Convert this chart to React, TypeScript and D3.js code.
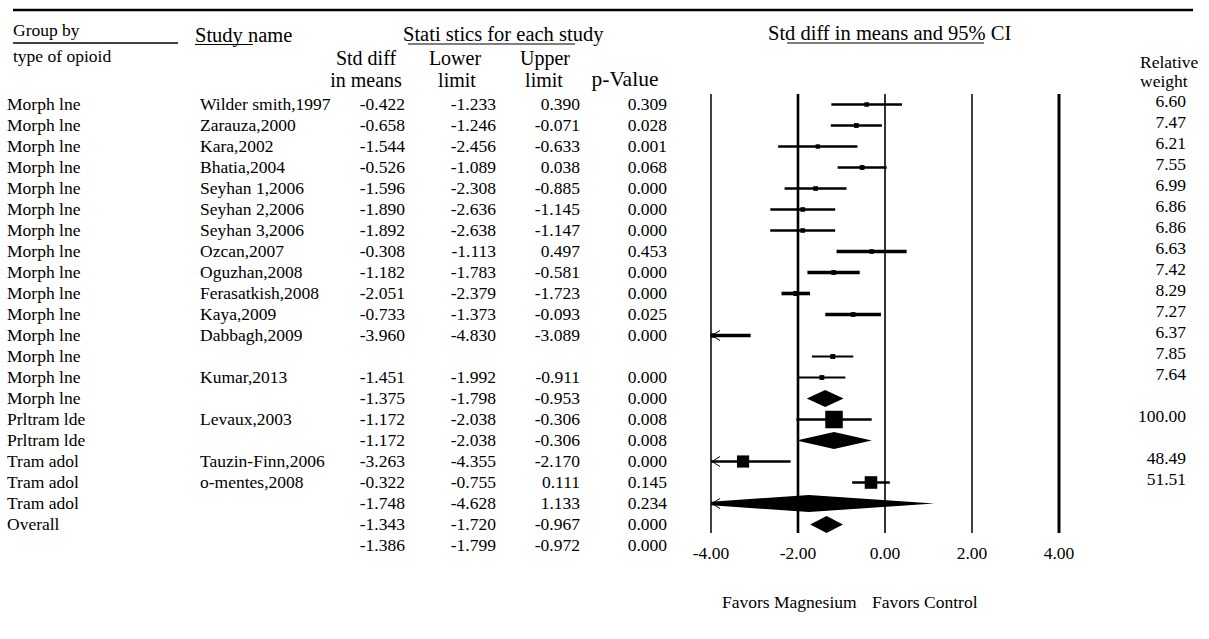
import React from "react";
import * as d3 from "d3";

// ---- table content -------------------------------------------------------
const groupLabels = [
  "Morph lne", "Morph lne", "Morph lne", "Morph lne", "Morph lne",
  "Morph lne", "Morph lne", "Morph lne", "Morph lne", "Morph lne",
  "Morph lne", "Morph lne", "Morph lne", "Morph lne", "Morph lne",
  "Prltram lde", "Prltram lde",
  "Tram adol", "Tram adol", "Tram adol",
  "Overall",
];

const studyNames = [
  "Wilder smith,1997", "Zarauza,2000", "Kara,2002", "Bhatia,2004",
  "Seyhan 1,2006", "Seyhan 2,2006", "Seyhan 3,2006", "Ozcan,2007",
  "Oguzhan,2008", "Ferasatkish,2008", "Kaya,2009", "Dabbagh,2009",
  "", "Kumar,2013", "", "Levaux,2003", "", "Tauzin-Finn,2006",
  "o-mentes,2008", "", "", "",
];

const stdDiff: (number | null)[] = [
  -0.422, -0.658, -1.544, -0.526, -1.596, -1.890, -1.892, -0.308,
  -1.182, -2.051, -0.733, -3.960, null, -1.451, -1.375, -1.172,
  -1.172, -3.263, -0.322, -1.748, -1.343, -1.386,
];
const lowerLimit: (number | null)[] = [
  -1.233, -1.246, -2.456, -1.089, -2.308, -2.636, -2.638, -1.113,
  -1.783, -2.379, -1.373, -4.830, null, -1.992, -1.798, -2.038,
  -2.038, -4.355, -0.755, -4.628, -1.720, -1.799,
];
const upperLimit: (number | null)[] = [
  0.390, -0.071, -0.633, 0.038, -0.885, -1.145, -1.147, 0.497,
  -0.581, -1.723, -0.093, -3.089, null, -0.911, -0.953, -0.306,
  -0.306, -2.170, 0.111, 1.133, -0.967, -0.972,
];
const pValues = [
  "0.309", "0.028", "0.001", "0.068", "0.000", "0.000", "0.000", "0.453",
  "0.000", "0.000", "0.025", "0.000", "", "0.000", "0.000", "0.008",
  "0.008", "0.000", "0.145", "0.234", "0.000", "0.000",
];
const relativeWeights: (number | null)[] = [
  6.60, 7.47, 6.21, 7.55, 6.99, 6.86, 6.86, 6.63, 7.42, 8.29, 7.27, 6.37,
  7.85, 7.64, null, 100.00, null, 48.49, 51.51, null, null, null,
];

// study plotted without a listed row of statistics (effect, lower, upper)
const unlistedStudy = [-1.20, -1.68, -0.73];

// kind of mark drawn on each row of the plot
const rowKinds = [
  "study", "study", "study", "study", "study", "study", "study", "study",
  "study", "study", "study", "study", "study", "study", "summary", "study",
  "summary", "study", "study", "summary", "summary", "none",
];

const axisTicks = [-4, -2, 0, 2, 4];

// ---- layout ---------------------------------------------------------------
const W = 1209;
const H = 639;
const FONT = "'Liberation Serif', 'Times New Roman', Times, serif";

const x = d3.scaleLinear().domain([-4, 4]).range([711, 1059]);
const y = d3
  .scaleBand<number>()
  .domain(d3.range(stdDiff.length))
  .range([94, 94 + stdDiff.length * 21]);
const cy = (i: number) => (y(i) as number) + y.bandwidth() / 2;

const plotTop = 94;
const plotBottom = 533;
const gridWidths = [1.5, 2.6, 1.6, 1.5, 3];

const ciWidth = (i: number) => (i <= 6 ? 2.7 : i <= 11 ? 3.6 : i <= 13 ? 2 : 2.6);
const squareSide = (w: number) => 1.75 * Math.sqrt(w);

// plain hyphen-minus, as in the printed table
const fmt = (v: number, d: number) => v.toFixed(d);

function Arrow({ yy }: { yy: number }) {
  const x0 = x(-4);
  return (
    <path
      d={`M${x0 + 9},${yy - 5} L${x0 + 1},${yy} L${x0 + 9},${yy + 5}`}
      fill="none"
      stroke="#000"
      strokeWidth={1}
    />
  );
}

export default function App() {
  const txt = { fontFamily: FONT, fill: "#000" } as const;

  const marks = rowKinds.map((kind, i) => {
    if (kind === "none") return null;
    const listed = stdDiff[i] !== null;
    const e = listed ? (stdDiff[i] as number) : unlistedStudy[0];
    const lo = listed ? (lowerLimit[i] as number) : unlistedStudy[1];
    const hi = listed ? (upperLimit[i] as number) : unlistedStudy[2];
    const c = cy(i);
    const clipped = lo < -4;
    const xl = x(Math.max(lo, -4));
    if (kind === "summary") {
      const h = 8.5;
      return (
        <g key={i}>
          <polygon
            clipPath="url(#plotClip)"
            points={`${x(lo)},${c} ${x(e)},${c - h} ${x(hi)},${c} ${x(e)},${c + h}`}
            fill="#000"
          />
          {clipped && <Arrow yy={c} />}
        </g>
      );
    }
    const s = squareSide(relativeWeights[i] ?? 7);
    return (
      <g key={i}>
        <line x1={xl} x2={x(hi)} y1={c} y2={c} stroke="#000" strokeWidth={ciWidth(i)} />
        <rect x={x(e) - s / 2} y={c - s / 2} width={s} height={s} fill="#000" />
        {clipped && <Arrow yy={c} />}
      </g>
    );
  });

  return (
    <svg
      width={W}
      height={H}
      viewBox={`0 0 ${W} ${H}`}
      style={{ position: "absolute", left: 0, top: 0, background: "#fff" }}
    >
      <defs>
        <clipPath id="plotClip">
          <rect x={x(-4)} y={0} width={W - x(-4)} height={H} />
        </clipPath>
      </defs>
      <rect width={W} height={H} fill="#fff" />

      {/* top rule */}
      <line x1={13} x2={1193} y1={10} y2={10} stroke="#000" strokeWidth={2.5} />

      {/* headers */}
      <g {...txt} fontSize={17.5}>
        <text x={13} y={36}>Group by</text>
        <text x={13} y={61.5}>type of opioid</text>
        <text x={1140} y={68}>Relative</text>
        <text x={1140} y={87}>weight</text>
      </g>
      <line x1={13} x2={178} y1={43} y2={43} stroke="#000" strokeWidth={1.3} />

      <g {...txt} fontSize={20.5}>
        <text x={195} y={42}>Study name</text>
        <text x={403} y={40.5}>Stati stics for each study</text>
        <text x={768} y={39.5}>Std diff in means and 95% CI</text>
      </g>
      <line x1={195} x2={253} y1={44.5} y2={44.5} stroke="#000" strokeWidth={1.2} />
      <line x1={408} x2={575} y1={44} y2={44} stroke="#000" strokeWidth={1.2} />
      <line x1={787} x2={984} y1={43} y2={43} stroke="#000" strokeWidth={1.2} />

      <g {...txt} fontSize={20} textAnchor="middle">
        <text x={366} y={65}>Std diff</text>
        <text x={366} y={87}>in means</text>
        <text x={455} y={65}>Lower</text>
        <text x={457} y={87}>limit</text>
        <text x={545} y={65}>Upper</text>
        <text x={544} y={87}>limit</text>
        <text x={625} y={86} fontSize={21.5}>p-Value</text>
      </g>

      {/* table body */}
      <g {...txt} fontSize={17.5}>
        {groupLabels.map((g, i) => (
          <text key={`g${i}`} x={7} y={cy(i) + 5}>{g}</text>
        ))}
        {studyNames.map((s, i) =>
          s ? <text key={`s${i}`} x={200} y={cy(i) + 5}>{s}</text> : null
        )}
        <g textAnchor="end">
          {stdDiff.map((v, i) =>
            v === null ? null : (
              <g key={`n${i}`}>
                <text x={405} y={cy(i) + 5}>{fmt(v, 3)}</text>
                <text x={496} y={cy(i) + 5}>{fmt(lowerLimit[i] as number, 3)}</text>
                <text x={580} y={cy(i) + 5}>{fmt(upperLimit[i] as number, 3)}</text>
                <text x={667} y={cy(i) + 5}>{pValues[i]}</text>
              </g>
            )
          )}
          {relativeWeights.map((w, i) =>
            w === null ? null : (
              <text key={`w${i}`} x={1186} y={cy(i) + 2.5}>{fmt(w, 2)}</text>
            )
          )}
        </g>
      </g>

      {/* reference lines */}
      {axisTicks.map((t, k) => (
        <line
          key={`v${t}`}
          x1={x(t)}
          x2={x(t)}
          y1={plotTop}
          y2={plotBottom}
          stroke="#000"
          strokeWidth={gridWidths[k]}
        />
      ))}

      {/* estimates */}
      {marks}

      {/* axis labels */}
      <g {...txt} fontSize={17.5} textAnchor="middle">
        {axisTicks.map((t) => (
          <text key={`t${t}`} x={x(t)} y={559}>{fmt(t, 2)}</text>
        ))}
      </g>
      <g {...txt} fontSize={17.5}>
        <text x={722} y={608}>Favors Magnesium</text>
        <text x={872} y={608}>Favors Control</text>
      </g>
    </svg>
  );
}
